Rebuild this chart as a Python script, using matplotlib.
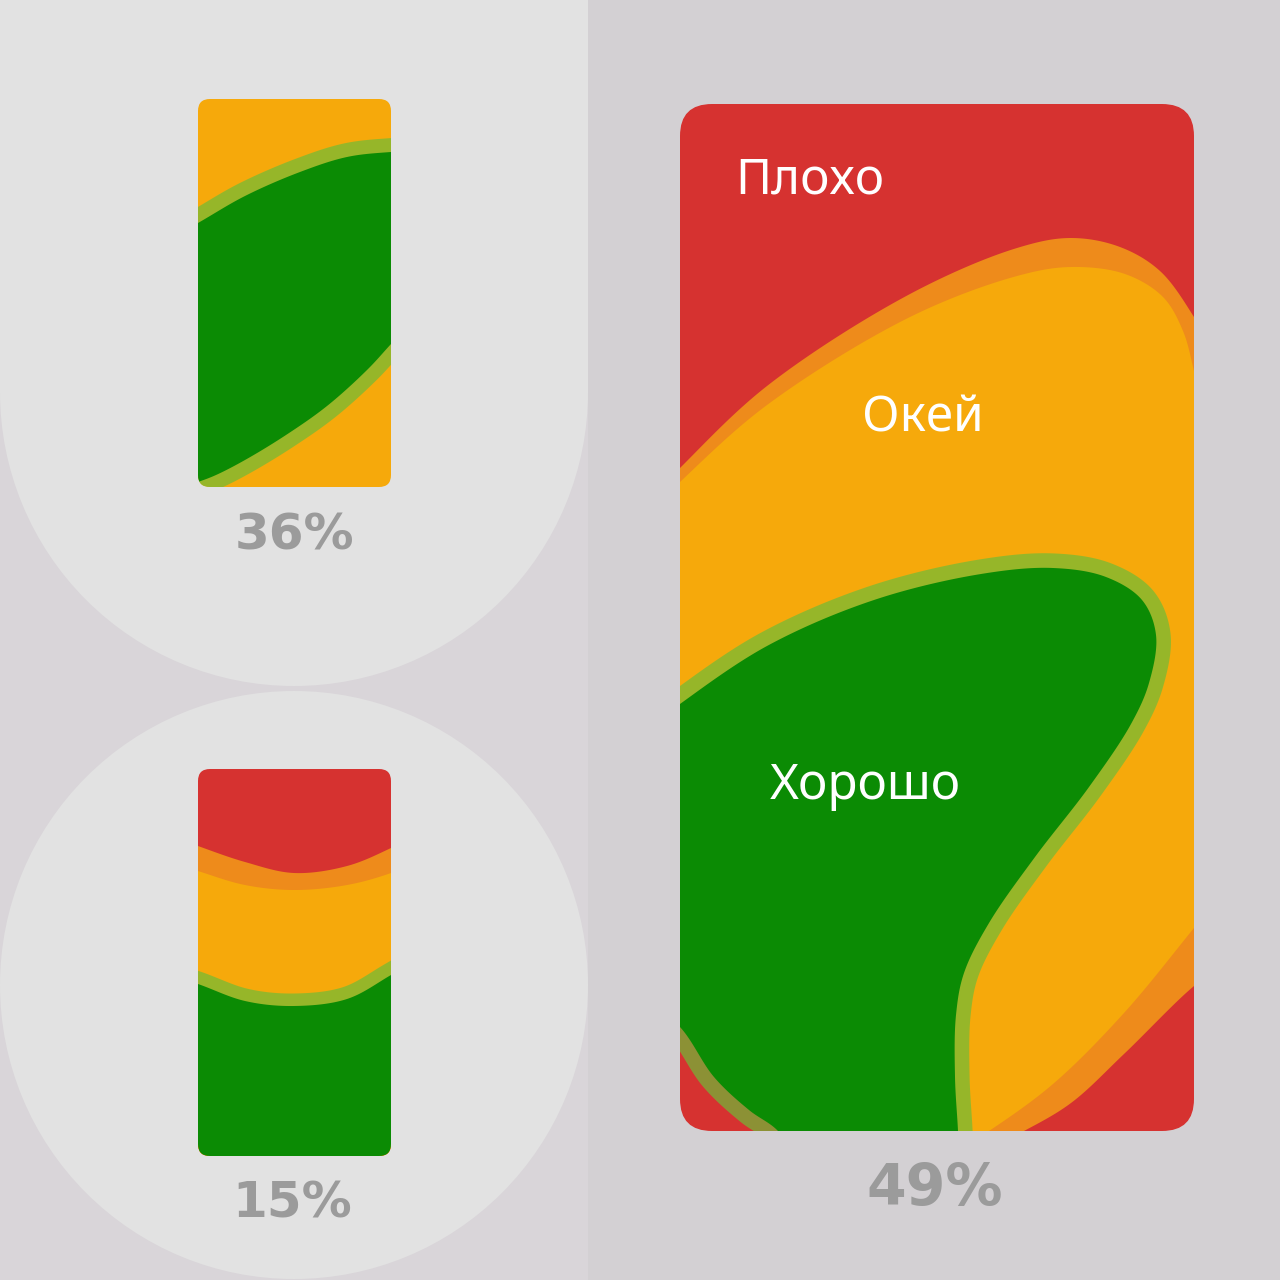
import numpy as np
import matplotlib
matplotlib.use("Agg")
import matplotlib.pyplot as plt
from matplotlib.patches import FancyBboxPatch, Polygon, Circle, Rectangle, Wedge

# data
shares = [36, 15, 49]
zone_names = ["Плохо", "Окей", "Хорошо"]

RED = "#d63230"
DARK_ORANGE = "#ee8b1b"
ORANGE = "#f6a90b"
GREEN = "#0b8b04"
STROKE = (0.42, 0.74, 0.22)
STROKE_ALPHA = 0.69
GREY_TXT = "#9b9b9b"


def smooth(pts, n=30, a=0.5):
    """Centripetal Catmull-Rom curve through the given points."""
    p = np.asarray(pts, float)
    p = np.vstack([2 * p[0] - p[1], p, 2 * p[-1] - p[-2]])
    out = []
    for i in range(1, len(p) - 2):
        P0, P1, P2, P3 = p[i - 1], p[i], p[i + 1], p[i + 2]
        t0 = 0.0
        t1 = t0 + np.linalg.norm(P1 - P0) ** a
        t2 = t1 + np.linalg.norm(P2 - P1) ** a
        t3 = t2 + np.linalg.norm(P3 - P2) ** a
        t = np.linspace(t1, t2, n, endpoint=False)[:, None]
        A1 = (t1 - t) / (t1 - t0) * P0 + (t - t0) / (t1 - t0) * P1
        A2 = (t2 - t) / (t2 - t1) * P1 + (t - t1) / (t2 - t1) * P2
        A3 = (t3 - t) / (t3 - t2) * P2 + (t - t2) / (t3 - t2) * P3
        B1 = (t2 - t) / (t2 - t0) * A1 + (t - t0) / (t2 - t0) * A2
        B2 = (t3 - t) / (t3 - t1) * A2 + (t - t1) / (t3 - t1) * A3
        out.append((t2 - t) / (t2 - t1) * B1 + (t - t1) / (t2 - t1) * B2)
    out.append(p[-2][None])
    return np.vstack(out)


def poly(*parts):
    return np.vstack([np.asarray(q, float) for q in parts])


def battery(ax, x0, y0, w, h, r, base):
    box = FancyBboxPatch((x0, y0), w, h, boxstyle=f"round,pad=0,rounding_size={r}",
                         fc=base, ec="none", zorder=2)
    ax.add_patch(box)
    return box


def add_fill(ax, xy, color, clip, z):
    p = Polygon(xy, closed=True, fc=color, ec="none", zorder=z)
    ax.add_patch(p)
    p.set_clip_path(clip)


def add_green(ax, xy, clip, z, lw=20):
    s = Polygon(xy, closed=True, fc="none", ec=STROKE, lw=lw, alpha=STROKE_ALPHA,
                joinstyle="round", zorder=z)
    ax.add_patch(s)
    s.set_clip_path(clip)
    add_fill(ax, xy, GREEN, clip, z + 0.1)


fig = plt.figure(figsize=(12.8, 12.8), dpi=100, facecolor="#d3d0d3")
ax = fig.add_axes([0, 0, 1, 1])
ax.set_xlim(0, 1280)
ax.set_ylim(1280, 0)
ax.axis("off")

# background panels
ax.add_patch(Rectangle((0, 0), 588, 1280, fc="#d9d5d9", ec="none", zorder=0))
ax.add_patch(Rectangle((0, 0), 588, 392, fc="#e2e2e2", ec="none", zorder=1))
ax.add_patch(Wedge((294, 392), 294, 0, 180, fc="#e2e2e2", ec="none", zorder=1))
ax.add_patch(Circle((294, 985), 294, fc="#e2e2e2", ec="none", zorder=1))

# ---- battery 1 (36%) ----
b1 = battery(ax, 198, 99, 193, 388, 12, ORANGE)
top1 = smooth([(150, 250), (198, 223), (245, 196), (300, 172), (347, 157), (391, 152), (440, 150)])
bot1 = smooth([(440, 290), (391, 344), (367, 370), (327, 406), (286, 435), (245, 460),
               (216, 475), (198, 482), (150, 498)])
add_green(ax, poly(top1, bot1), b1, 3)

# ---- battery 2 (15%) ----
b2 = battery(ax, 198, 769, 193, 387, 12, RED)
c1 = smooth([(150, 828), (198, 846), (245, 862), (294, 873), (347, 866), (391, 848), (440, 822)])
add_fill(ax, poly(c1, [(440, 1200), (150, 1200)]), DARK_ORANGE, b2, 3)
c2 = smooth([(150, 855), (198, 871), (245, 885), (294, 890), (347, 885), (391, 873), (440, 852)])
add_fill(ax, poly(c2, [(440, 1200), (150, 1200)]), ORANGE, b2, 4)
c4 = smooth([(150, 968), (198, 984), (245, 1001), (294, 1006), (347, 999), (391, 975), (440, 945)])
add_green(ax, poly(c4, [(440, 1200), (150, 1200)]), b2, 5, lw=18)

# ---- battery 3 (49%) ----
b3 = battery(ax, 680, 104, 514, 1027, 32, RED)
hidden = [(870, 1175), (870, 900), (700, 800), (640, 700)]
d_top = smooth([(640, 510), (680, 468), (767, 386), (910, 294), (1017, 248), (1071, 238),
                (1120, 247), (1160, 271), (1194, 317), (1215, 355)])
d_low = smooth([(1230, 960), (1194, 986), (1124, 1054), (1071, 1103), (1024, 1131), (985, 1150)])
add_fill(ax, poly(d_top, [(1260, 355), (1260, 975)], d_low, hidden), DARK_ORANGE, b3, 3)
o_top = smooth([(640, 522), (680, 482), (767, 405), (910, 317), (1017, 276), (1071, 267),
                (1125, 274), (1163, 297), (1183, 331), (1194, 371), (1205, 420)])
o_low = smooth([(1225, 890), (1194, 928), (1124, 1013), (1053, 1084), (989, 1131), (950, 1155)])
add_fill(ax, poly(o_top, [(1260, 420), (1260, 890)], o_low, hidden), ORANGE, b3, 4)
g_main = smooth([(640, 735), (680, 704), (767, 646), (874, 600), (981, 574), (1053, 568),
                 (1106, 577), (1142, 600), (1156, 635), (1149, 683), (1131, 724), (1089, 787),
                 (1035, 857), (989, 923), (964, 973), (956, 1015), (955, 1077), (958, 1131),
                 (960, 1180)])
g_left = smooth([(800, 1165), (778, 1131), (749, 1110), (714, 1077), (680, 1027), (640, 995)])
add_green(ax, poly(g_main, g_left), b3, 5, lw=21)

# zone labels
label_pos = [(810, 181), (923, 418), (865, 786)]
for name, (x, y) in zip(zone_names, label_pos):
    ax.text(x, y, name, color="white", fontsize=35.5, family="Noto Sans",
            ha="center", va="center", zorder=10)

# share labels
share_pos = [(294, 536, 36), (292, 1203, 36), (935, 1189, 41)]
for v, (x, y, fs) in zip(shares, share_pos):
    ax.text(x, y, f"{v}%", color=GREY_TXT, fontsize=fs, family="DejaVu Sans",
            fontweight="bold", ha="center", va="center", zorder=10)

fig.savefig("out.png", dpi=100, facecolor=fig.get_facecolor())
